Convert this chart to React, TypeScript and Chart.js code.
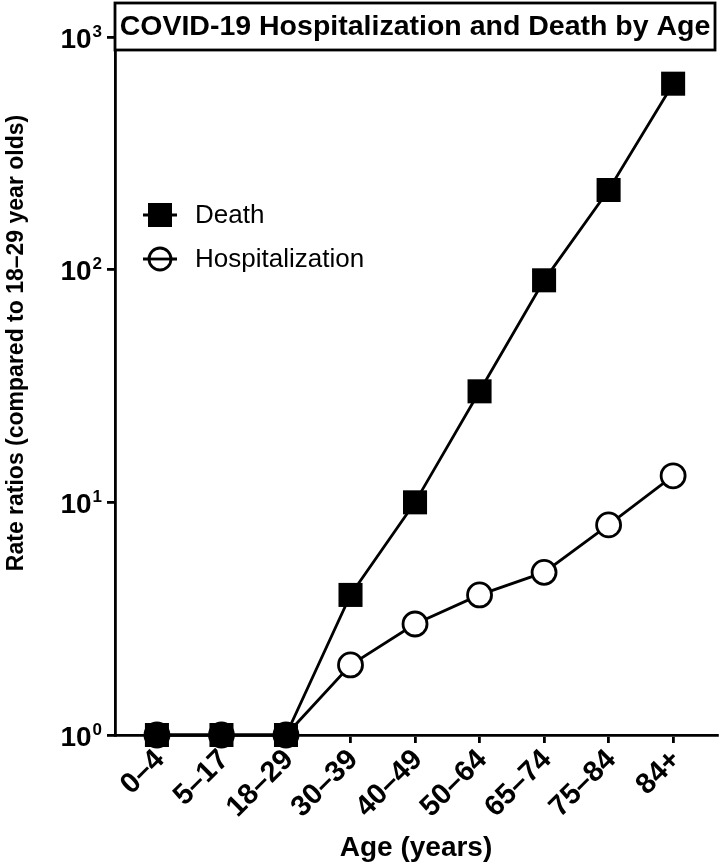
import React, { useEffect, useRef } from 'react';
import { Chart, registerables } from 'chart.js';

Chart.register(...registerables);

const ageGroups = ['0–4', '5–17', '18–29', '30–39', '40–49', '50–64', '65–74', '75–84', '84+'];
const deathRatios = [1, 1, 1, 4, 10, 30, 90, 220, 630];
const hospitalizationRatios = [1, 1, 1, 2, 3, 4, 5, 8, 13];
const yTickValues = [1, 10, 100, 1000];
const chartTitle = 'COVID-19 Hospitalization and Death by Age';
const yAxisTitle = 'Rate ratios (compared to 18–29 year olds)';
const xAxisTitle = 'Age (years)';
const seriesLabels = ['Death', 'Hospitalization'];

const FONT = '"Liberation Sans", Arial, Helvetica, sans-serif';
const LW = 2.8;

const titleBoxPlugin = {
  id: 'titleBox',
  afterDraw(chart: any) {
    const { ctx, chartArea } = chart;
    const top = chartArea.top;
    const h = 47;
    const w = chartArea.right - chartArea.left - 2;
    ctx.save();
    ctx.fillStyle = '#fff';
    ctx.fillRect(chartArea.left, top, w, h);
    ctx.lineWidth = LW;
    ctx.strokeStyle = '#000';
    ctx.strokeRect(chartArea.left, top, w, h);
    ctx.fillStyle = '#000';
    ctx.font = `bold 28.5px ${FONT}`;
    ctx.textAlign = 'center';
    ctx.textBaseline = 'middle';
    ctx.fillText(chartTitle, chartArea.left + w / 2, top + h / 2 + 1);
    ctx.restore();
  },
};

const legendPlugin = {
  id: 'customLegend',
  afterDraw(chart: any) {
    const { ctx, chartArea } = chart;
    const x0 = chartArea.left + 28;
    const ys = [chartArea.top + 212, chartArea.top + 256];
    ctx.save();
    ctx.strokeStyle = '#000';
    ctx.lineWidth = LW;
    ctx.font = `26px ${FONT}`;
    ctx.textBaseline = 'middle';
    ctx.textAlign = 'left';
    chart.data.datasets.forEach((ds: any, i: number) => {
      const y = ys[i];
      ctx.beginPath();
      ctx.moveTo(x0, y);
      ctx.lineTo(x0 + 34, y);
      ctx.stroke();
      const cx = x0 + 17;
      if (ds.pointStyle === 'rect') {
        ctx.fillStyle = '#000';
        ctx.fillRect(cx - 12, y - 12, 24, 24);
      } else {
        ctx.beginPath();
        ctx.arc(cx, y, 11, 0, Math.PI * 2);
        ctx.fillStyle = '#fff';
        ctx.fill();
        ctx.stroke();
        ctx.beginPath();
        ctx.moveTo(cx - 11, y);
        ctx.lineTo(cx + 11, y);
        ctx.stroke();
      }
      ctx.fillStyle = '#000';
      ctx.fillText(ds.label, x0 + 52, y + 1);
    });
    ctx.restore();
  },
};

const yAxisPlugin = {
  id: 'yAxisLabels',
  afterDraw(chart: any) {
    const { ctx } = chart;
    const scale = chart.scales.y;
    ctx.save();
    ctx.fillStyle = '#000';
    ctx.textBaseline = 'middle';
    ctx.textAlign = 'left';
    scale.ticks.forEach((t: any) => {
      const y = scale.getPixelForValue(t.value);
      const exp = String(Math.round(Math.log10(t.value)));
      ctx.font = `bold 28px ${FONT}`;
      const baseW = ctx.measureText('10').width;
      ctx.font = `bold 17px ${FONT}`;
      const supW = ctx.measureText(exp).width;
      const right = scale.right - 13;
      const left = right - supW - baseW - 1;
      ctx.font = `bold 28px ${FONT}`;
      ctx.fillText('10', left, y + 3);
      ctx.font = `bold 17px ${FONT}`;
      ctx.fillText(exp, left + baseW + 1, y - 5);
    });
    ctx.translate(17, 343);
    ctx.rotate(-Math.PI / 2);
    ctx.textAlign = 'center';
    ctx.font = `bold 23px ${FONT}`;
    ctx.fillText(yAxisTitle, 0, 0);
    ctx.restore();
  },
};

export default function App() {
  const canvasRef = useRef<HTMLCanvasElement | null>(null);

  useEffect(() => {
    document.body.style.margin = '0';
    const canvas = canvasRef.current;
    if (!canvas) return;
    const chart = new Chart(canvas, {
      type: 'line',
      data: {
        datasets: [
          {
            label: seriesLabels[0],
            data: deathRatios.map((v, i) => ({ x: i, y: v })),
            borderColor: '#000',
            backgroundColor: '#000',
            borderWidth: LW,
            pointStyle: 'rect',
            pointRadius: 17,
            pointBackgroundColor: '#000',
            pointBorderColor: '#000',
            pointBorderWidth: 0,
            tension: 0,
            clip: false,
          },
          {
            label: seriesLabels[1],
            data: hospitalizationRatios.map((v, i) => ({ x: i, y: v })),
            borderColor: '#000',
            backgroundColor: '#fff',
            borderWidth: LW,
            pointStyle: 'circle',
            pointRadius: 12,
            pointBackgroundColor: '#fff',
            pointBorderColor: '#000',
            pointBorderWidth: LW,
            tension: 0,
            clip: false,
          },
        ],
      },
      options: {
        animation: false,
        responsive: true,
        maintainAspectRatio: false,
        layout: { autoPadding: false, padding: { top: 3, right: 3, left: 0, bottom: 0 } },
        plugins: {
          legend: { display: false },
          tooltip: { enabled: false },
          title: { display: false },
        },
        scales: {
          x: {
            type: 'linear',
            min: -0.65,
            max: 8.68,
            afterBuildTicks: (scale: any) => {
              scale.ticks = ageGroups.map((_, i) => ({ value: i }));
            },
            afterFit: (scale: any) => {
              scale.height = 131;
              scale.paddingLeft = 0;
              scale.paddingRight = 0;
            },
            grid: {
              display: true,
              drawOnChartArea: false,
              drawTicks: true,
              tickLength: 8,
              color: '#000',
              lineWidth: LW,
            },
            border: { display: true, color: '#000', width: LW },
            ticks: {
              color: '#000',
              font: { family: FONT, size: 29, weight: 'bold' },
              minRotation: 45,
              maxRotation: 45,
              padding: 0,
              labelOffset: 3,
              autoSkip: false,
              callback: (v: any) => ageGroups[Number(v)] ?? '',
            },
            title: {
              display: true,
              text: xAxisTitle,
              color: '#000',
              font: { family: FONT, size: 28, weight: 'bold' },
              padding: { top: 0, bottom: 1 },
            },
          },
          y: {
            type: 'logarithmic',
            min: 1,
            max: 1400,
            afterBuildTicks: (scale: any) => {
              scale.ticks = yTickValues.map((v) => ({ value: v }));
            },
            afterFit: (scale: any) => {
              scale.width = 115;
              scale.paddingTop = 0;
              scale.paddingBottom = 0;
            },
            grid: {
              display: true,
              drawOnChartArea: false,
              drawTicks: true,
              tickLength: 8,
              color: '#000',
              lineWidth: LW,
            },
            border: { display: true, color: '#000', width: LW },
            ticks: { display: false },
            title: { display: false },
          },
        },
      },
      plugins: [yAxisPlugin, titleBoxPlugin, legendPlugin],
    } as any);
    return () => chart.destroy();
  }, []);

  return (
    <div style={{ width: 720, height: 866, position: 'relative' }}>
      <canvas ref={canvasRef} />
    </div>
  );
}
